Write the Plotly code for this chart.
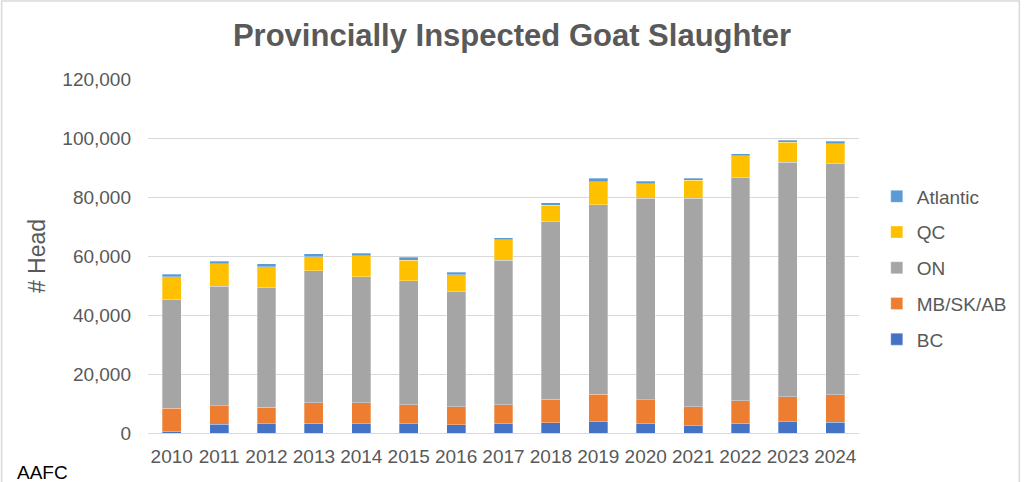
import plotly.graph_objs as go

years = [str(y) for y in range(2010, 2025)]

# head counts
bc = [500, 2900, 3200, 3300, 3200, 3200, 2800, 3200, 3400, 4000, 3100, 2400, 3300, 3900, 3700]
mb_sk_ab = [7900, 6400, 5500, 7000, 7000, 6300, 6100, 6300, 8000, 9200, 8100, 6500, 7700, 8400, 9200]
on = [37000, 40500, 40500, 44700, 42700, 42100, 39000, 49100, 60300, 64100, 68300, 70700, 75600, 79400, 78400]
qc = [7600, 7500, 7100, 4800, 7200, 6900, 5800, 6900, 5500, 7900, 5000, 6000, 7400, 6900, 6800]
atlantic = [900, 900, 1100, 1000, 900, 1000, 800, 700, 800, 1100, 900, 700, 700, 700, 800]

series = [
    ("BC", bc, "#4472C4"),
    ("MB/SK/AB", mb_sk_ab, "#ED7D31"),
    ("ON", on, "#A5A5A5"),
    ("QC", qc, "#FFC000"),
    ("Atlantic", atlantic, "#5B9BD5"),
]

FONT = "Liberation Sans, Arial, sans-serif"
GREY = "#595959"
W, H = 1024, 482
ML, MR, MT, MB = 148, 162, 79, 49

fig = go.Figure()
for i, (name, vals, col) in enumerate(series):
    fig.add_trace(go.Bar(
        x=years, y=vals, name=name, legendgroup=name,
        legendrank=len(series) - i,  # Atlantic on top of the legend, BC at the bottom
        marker=dict(color=col, line=dict(color="rgba(255,255,255,0.6)", width=0.5)),
    ))

pw = W - ML - MR
ph = H - MT - MB

fig.update_layout(
    width=W, height=H,
    barmode="stack", bargap=0.6,
    margin=dict(l=ML, r=MR, t=MT, b=MB),
    paper_bgcolor="white", plot_bgcolor="white",
    font=dict(family=FONT, color=GREY, size=19),
    title=dict(text="<b>Provincially Inspected Goat Slaughter</b>", x=0.5, xanchor="center",
               y=1 - 35 / H, yanchor="middle", font=dict(size=31, color=GREY)),
    legend=dict(x=1.025, xanchor="left", y=(433 - 268) / ph, yanchor="middle", traceorder="grouped",
                tracegroupgap=8, font=dict(size=19, color=GREY)),
    showlegend=True,
)
fig.update_yaxes(range=[0, 120000], dtick=20000, tickformat=",", showgrid=True,
                 gridcolor="#D9D9D9", gridwidth=1, zeroline=False, showline=False,
                 ticks="", ticklabelstandoff=16, tickfont=dict(size=19, color=GREY),
                 title=dict(text="# Head", font=dict(size=23, color=GREY), standoff=10))
fig.update_xaxes(showline=True, linecolor="#D9D9D9", linewidth=1, ticks="",
                 ticklabelstandoff=6, tickfont=dict(size=19, color=GREY))

# outer chart border
fig.add_shape(type="rect", xref="paper", yref="paper",
              x0=(1 - ML) / pw, x1=(W - 1 - ML) / pw,
              y0=(MB - H + 1) / ph, y1=(H - MB - 1) / ph,
              line=dict(color="#D9D9D9", width=1.5), fillcolor="rgba(0,0,0,0)", layer="below")

fig.add_annotation(text="AAFC", xref="paper", yref="paper",
                   x=(14 - ML) / pw, xanchor="left", y=-(472 - (H - MB)) / ph, yanchor="middle",
                   showarrow=False, font=dict(size=19, color="black"))

fig.write_html("out.html", config={"displayModeBar": False},
               post_script="document.body.style.margin='0';")
